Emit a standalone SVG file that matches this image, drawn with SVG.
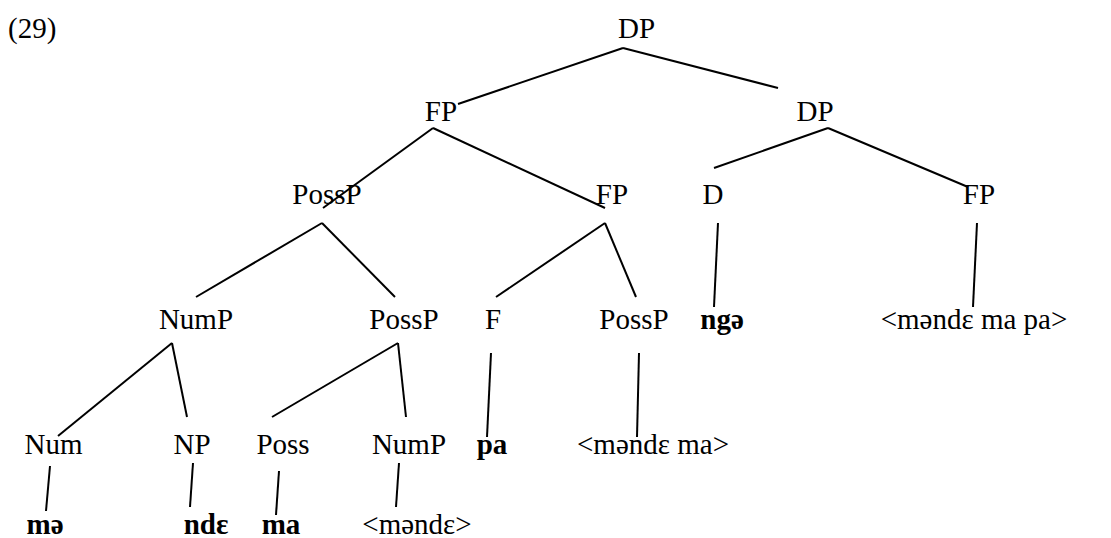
<svg xmlns="http://www.w3.org/2000/svg" width="1111" height="538" viewBox="0 0 1111 538">
<style>
text{font-family:"Liberation Serif","Times New Roman",serif;font-size:29px;fill:#000;text-anchor:middle}
.b{font-weight:bold}
.e line{stroke:#000;stroke-width:2}
</style>
<rect width="1111" height="538" fill="#fff"/>
<text x="8" y="38" style="text-anchor:start">(29)</text>
<g id="n-dp"><text x="636.5" y="38">DP</text></g>
<g id="n-fp1"><text x="441" y="121">FP</text></g>
<g id="n-dp2"><text x="815" y="121">DP</text></g>
<g id="n-possp1"><text x="327" y="204">PossP</text></g>
<g id="n-fp2"><text x="612" y="204">FP</text></g>
<g id="n-d"><text x="713" y="204">D</text></g>
<g id="n-fp3"><text x="979" y="204">FP</text></g>
<g id="n-nump1"><text x="196" y="329">NumP</text></g>
<g id="n-possp2"><text x="404" y="329">PossP</text></g>
<g id="n-f"><text x="493" y="329">F</text></g>
<g id="n-possp3"><text x="634" y="329">PossP</text></g>
<g id="n-nge"><text class="b" x="722" y="329">ngə</text></g>
<g id="n-mmp"><text x="974" y="329">&lt;məndɛ ma pa&gt;</text></g>
<g id="n-num"><text x="53.5" y="454">Num</text></g>
<g id="n-np"><text x="192" y="454">NP</text></g>
<g id="n-poss"><text x="283" y="454">Poss</text></g>
<g id="n-nump2"><text x="409" y="454">NumP</text></g>
<g id="n-pa"><text class="b" x="492" y="454">pa</text></g>
<g id="n-mm"><text x="653" y="454">&lt;məndɛ ma&gt;</text></g>
<g id="n-me"><text class="b" x="45" y="534">mə</text></g>
<g id="n-nde"><text class="b" x="206" y="534">ndɛ</text></g>
<g id="n-ma"><text class="b" x="281" y="534">ma</text></g>
<g id="n-mende"><text x="417" y="534">&lt;məndɛ&gt;</text></g>
<g class="e" id="connectors">
<line x1="623" y1="48" x2="458" y2="104"/>
<line x1="623" y1="48" x2="778" y2="88"/>
<line x1="433" y1="128" x2="323" y2="208"/>
<line x1="433" y1="128" x2="605" y2="208"/>
<line x1="828" y1="128" x2="714" y2="168"/>
<line x1="828" y1="128" x2="968" y2="187"/>
<line x1="322" y1="223" x2="196" y2="297"/>
<line x1="322" y1="223" x2="395" y2="297"/>
<line x1="605" y1="223" x2="496" y2="297"/>
<line x1="605" y1="223" x2="636" y2="297"/>
<line x1="718" y1="223" x2="714" y2="307"/>
<line x1="977" y1="223" x2="973" y2="307"/>
<line x1="172" y1="343" x2="58" y2="436"/>
<line x1="172" y1="343" x2="187" y2="417"/>
<line x1="398" y1="343" x2="272" y2="417"/>
<line x1="398" y1="343" x2="406" y2="417"/>
<line x1="491" y1="353" x2="487" y2="437"/>
<line x1="639" y1="353" x2="637" y2="437"/>
<line x1="50" y1="466" x2="46" y2="511"/>
<line x1="193" y1="463" x2="190" y2="507"/>
<line x1="279" y1="471" x2="276" y2="515"/>
<line x1="399" y1="463" x2="396" y2="507"/>
</g>
</svg>
